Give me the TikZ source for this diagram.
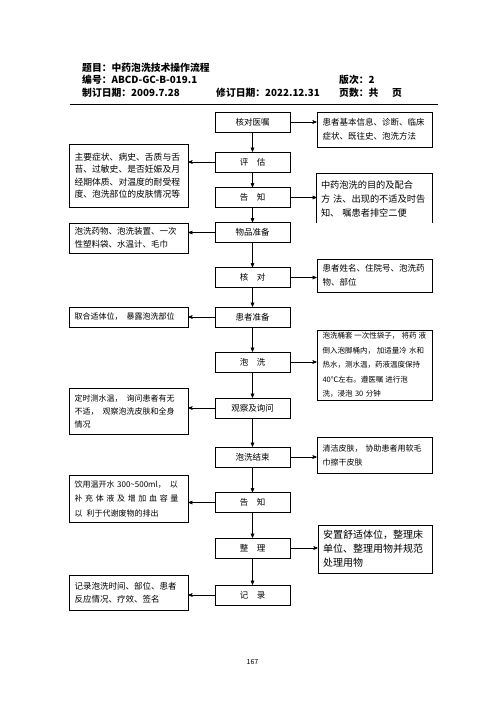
\documentclass[tikz,border=0pt]{standalone}
\usepackage{fontspec}
\setmainfont{Noto Sans CJK SC}
\usepackage{tikz}
\usetikzlibrary{arrows}
\usetikzlibrary{calc}
\newcommand\defaultarrowstyle{stealth'}
\tikzset{>=\defaultarrowstyle}
\newcommand\boxwidth{.6pt}
\newcommand\fsz[2]{\fontsize{#1}{#2}\selectfont}
\tikzstyle{head}      = [anchor=west, inner sep=0pt, font=\fsz{9.8}{12}\bfseries]
\tikzstyle{stepbox}   = [draw, line width=\boxwidth, minimum width=75pt, minimum height=20pt, inner sep=1pt, font=\fsz{8.5}{10}]
\tikzstyle{notebox}   = [draw, line width=\boxwidth, align=left, inner sep=0pt]
\tikzstyle{leftnote}  = [notebox, minimum width=119pt, text width=108pt]
\tikzstyle{rightnote} = [notebox, minimum width=115pt, text width=104pt]
\tikzstyle{flow}      = [line width=\boxwidth, ->]

\begin{document}
\begin{tikzpicture}[x=1pt, y=-1pt]
  \useasboundingbox (0,0) rectangle (500,707);
  \draw (82,68) node[head] (title) {题目：中药泡洗技术操作流程};
  \draw (82,80) node[head] (code) {编号：ABCD-GC-B-019.1};
  \draw (339,80) node[head] (edition) {版次：2};
  \draw (82,93) node[head] (made) {制订日期：2009.7.28};
  \draw (216,93) node[head] (revised) {修订日期：2022.12.31};
  \draw (339,93) node[head] (pages) {页数：共};
  \draw (392,93) node[head] (pageunit) {页};
  \coordinate (ruleL) at (70,104);
  \coordinate (ruleR) at (438,104);
  \draw[line width=.8pt] (ruleL) -- (ruleR);

  \draw (252.5,122) node[stepbox] (verify) {核对医嘱};
  \draw (252.5,162) node[stepbox] (assess) {评\hspace{1em}估};
  \draw (252.5,197.5) node[stepbox] (inform) {告\hspace{1em}知};
  \draw (252.5,232.5) node[stepbox] (prepare) {物品准备};
  \draw (252.5,277.5) node[stepbox] (check) {核\hspace{1em}对};
  \draw (252.5,317) node[stepbox] (patient) {患者准备};
  \draw (252.5,362) node[stepbox] (soak) {泡\hspace{1em}洗};
  \draw (252.5,408) node[stepbox] (observe) {观察及询问};
  \draw (252.5,457) node[stepbox] (finish) {泡洗结束};
  \draw (252.5,502.5) node[stepbox] (tell) {告\hspace{1em}知};
  \draw (252.5,548) node[stepbox] (tidy) {整\hspace{1em}理};
  \draw (252.5,595) node[stepbox] (record) {记\hspace{1em}录};

  \draw (374.5,129.5) node[rightnote, minimum height=35pt, font=\fsz{8.5}{14}] (verifyR)
    {患者基本信息、诊断、临床\\症状、既往史、泡洗方法};
  \draw (374.5,198.5) node[rightnote, draw=none, minimum height=49pt, text width=107pt, font=\fsz{9.2}{14}] (informR)
    {中药泡洗的目的及配合\\方\hspace{3pt}法、出现的不适及时告\\知、\hspace{3pt}嘱患者排空二便};
  \draw (informR.south west) -- (informR.north west) -- (informR.north east) -- (informR.south east) [line width=\boxwidth];
  \draw (374.5,275.5) node[rightnote, minimum height=33pt, font=\fsz{8.5}{14}] (checkR)
    {患者姓名、住院号、泡洗药\\物、部位};
  \draw (374.5,365) node[rightnote, minimum height=70pt, font=\fsz{7.5}{14.5}] (soakR)
    {泡洗桶套\hspace{2pt}一次性袋子，\hspace{2pt}将药\hspace{2pt}液\\倒入泡脚桶内，\hspace{2pt}加适量冷\hspace{2pt}水和\\热水，测水温，药液温度保持\\40℃左右。遵医嘱\hspace{2pt}进行泡\\洗，浸泡~30~分钟};
  \draw (374.5,455) node[rightnote, minimum height=36pt, font=\fsz{8}{14}] (finishR)
    {清洁皮肤，\hspace{3pt}协助患者用软毛\\巾擦干皮肤};
  \draw (375,549) node[rightnote, minimum width=114pt, minimum height=48pt, font=\fsz{10}{14}] (tidyR)
    {安置舒适体位，整理床\\单位、整理用物并规范\\处理用物};

  \draw (128.5,175.5) node[leftnote, minimum height=63pt, font=\fsz{8.8}{12.5}] (assessL)
    {主要症状、病史、舌质与舌\\苔、过敏史、是否妊娠及月\\经期体质、对温度的耐受程\\度、泡洗部位的皮肤情况等};
  \draw (128.5,238) node[leftnote, minimum height=30pt, font=\fsz{8.5}{12.5}] (prepareL)
    {泡洗药物、泡洗装置、一次\\性塑料袋、水温计、毛巾};
  \draw (128.5,317) node[leftnote, minimum height=20pt, font=\fsz{8}{10}] (patientL)
    {取合适体位，\hspace{4pt}暴露泡洗部位};
  \draw (128.5,411) node[leftnote, minimum height=46pt, font=\fsz{8}{13}] (observeL)
    {定时测水温，\hspace{4pt}询问患者有无\\不适，\hspace{4pt}观察泡洗皮肤和全身\\情况};
  \draw (128.5,498.5) node[leftnote, minimum height=47pt, font=\fsz{8}{14.5}] (tellL)
    {饮用温开水~300\textasciitilde500ml，\hspace{4pt}以\\\makebox[101pt][s]{补 充 体 液 及 增 加 血 容 量}\\以\hspace{4pt}利于代谢废物的排出};
  \draw (128.5,592.5) node[leftnote, minimum height=35pt, font=\fsz{8.5}{13.3}] (recordL)
    {记录泡洗时间、部位、患者\\反应情况、疗效、签名};

  \draw (verify) -- (assess) [flow];
  \draw (assess) -- (inform) [flow];
  \draw (inform) -- (prepare) [flow];
  \draw (prepare) -- (check) [flow];
  \draw (check) -- (patient) [flow];
  \draw (patient) -- (soak) [flow];
  \draw (soak) -- (observe) [flow];
  \draw (observe) -- (finish) [flow];
  \draw (finish) -- (tell) [flow];
  \draw (tell) -- (tidy) [flow];
  \draw (tidy) -- (record) [flow];

  \draw (verify.east) -- (verify.east -| verifyR.west) [flow];
  \draw (inform.east) -- (inform.east -| informR.west) [flow];
  \draw (check.east) -- (check.east -| checkR.west) [flow];
  \draw (soak.east) -- (soak.east -| soakR.west) [flow];
  \draw (finish.east) -- (finish.east -| finishR.west) [flow];
  \draw (tidy.east) -- (tidy.east -| tidyR.west) [flow];
  \draw (assess.west) -- (assess.west -| assessL.east) [flow];
  \draw (prepare.west) -- (prepare.west -| prepareL.east) [flow];
  \draw (patient.west) -- (patient.west -| patientL.east) [flow];
  \draw (observe.west) -- (observe.west -| observeL.east) [flow];
  \draw (tell.west) -- (tell.west -| tellL.east) [flow];
  \draw (record.west) -- (record.west -| recordL.east) [flow];

  \draw (252.5,662) node[font=\fsz{7}{8}] (pageno) {167};
\end{tikzpicture}
\end{document}
